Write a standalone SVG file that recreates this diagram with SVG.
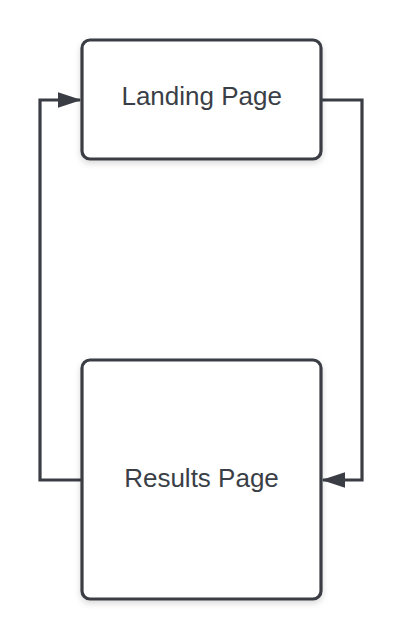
<svg xmlns="http://www.w3.org/2000/svg" width="403" height="640" viewBox="0 0 403 640">
<style>
.box{fill:#ffffff;stroke:#3a3e44;stroke-width:3.2}
.lbl{font-family:"Liberation Sans",Arial,sans-serif;font-size:26px;fill:#3a3f47;text-anchor:middle}
.edge{fill:none;stroke:#3a3e44;stroke-width:3.2}
</style>
<defs>
<marker id="arr" markerWidth="7.5" markerHeight="5" refX="7" refY="2.5" orient="auto" markerUnits="strokeWidth">
<path d="M0,0 L7.5,2.5 L0,5 z" fill="#3a3e44"/>
</marker>
<filter id="sh" x="-10%" y="-10%" width="120%" height="130%">
<feDropShadow dx="0" dy="3" stdDeviation="3" flood-color="#000" flood-opacity="0.15"/>
</filter>
</defs>
<rect width="403" height="640" fill="#ffffff"/>
<g id="connectors">
<path class="edge" d="M82,480 H40 V100 H80" marker-end="url(#arr)"/>
<path class="edge" d="M321,100 H362 V480 H323" marker-end="url(#arr)"/>
</g>
<g id="landing">
<rect class="box" x="82" y="40" width="239" height="119" rx="8" filter="url(#sh)"/>
<text class="lbl" x="201.7" y="105">Landing Page</text>
</g>
<g id="results">
<rect class="box" x="82" y="360" width="239" height="239" rx="8" filter="url(#sh)"/>
<text class="lbl" x="201.5" y="487">Results Page</text>
</g>
</svg>
